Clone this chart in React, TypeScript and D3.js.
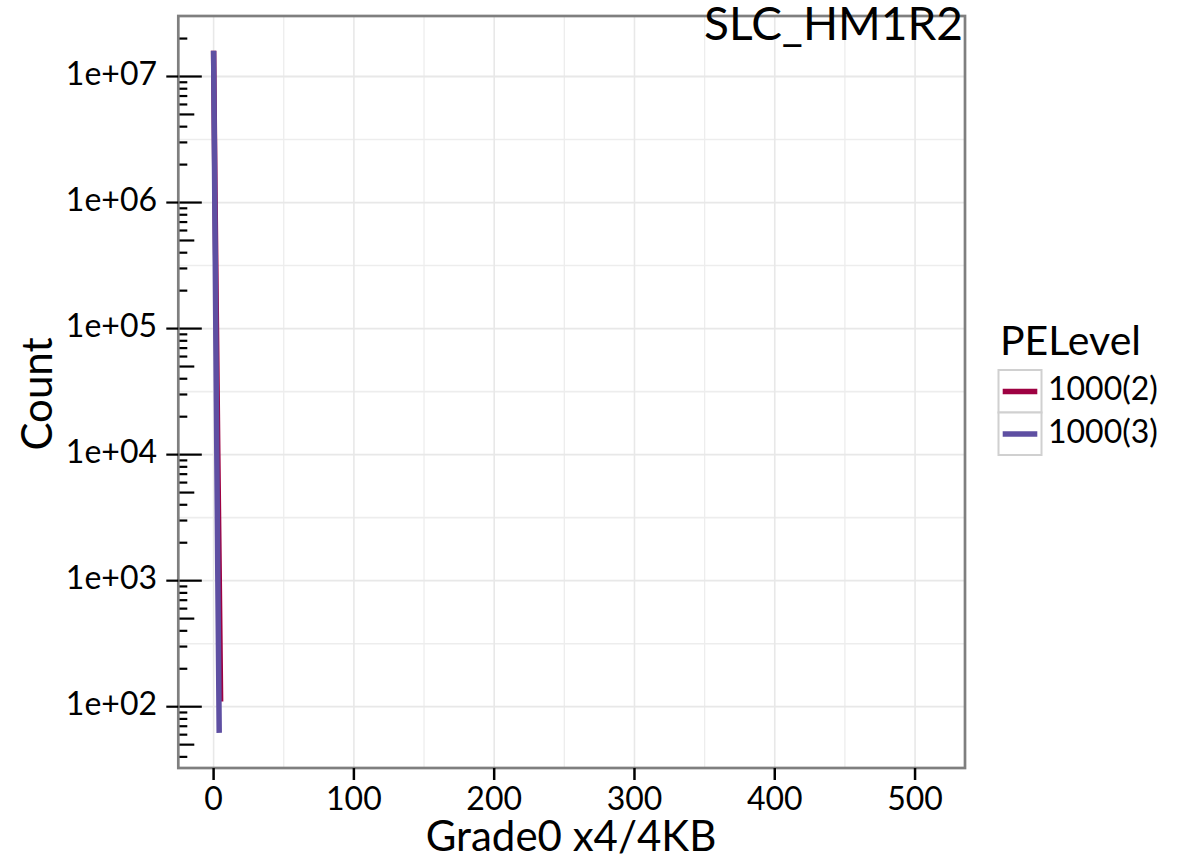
import React from "react";
import * as d3 from "d3";

const seriesNames = ["1000(2)", "1000(3)"];
const seriesColors = ["#9E0142", "#5E4FA2"];
const xRed = [0, 1, 2, 3, 4, 5];
const yRed = [1.6e7, 1.2e6, 1.1e5, 1.0e4, 1.1e3, 110];
const xPurple = [0, 1, 2, 3, 4];
const yPurple = [1.6e7, 6.5e5, 2.6e4, 1.1e3, 62];
const xTicks = [0, 100, 200, 300, 400, 500];
const xMinor = [50, 150, 250, 350, 450];
const yTicks = [1e2, 1e3, 1e4, 1e5, 1e6, 1e7];
const yTickLabels = ["1e+02", "1e+03", "1e+04", "1e+05", "1e+06", "1e+07"];
const title = "SLC_HM1R2";
const xTitle = "Grade0 x4/4KB";
const yTitle = "Count";
const legendTitle = "PELevel";

const W = 1191;
const H = 858;
const P = { left: 178.3, right: 965, top: 16, bottom: 768 };
const FONT = "Lato, 'Open Sans', sans-serif";

export default function App() {
  const x = d3.scaleLinear().domain([-25.16, 535.6]).range([P.left, P.right]);
  const y = d3.scaleLog().domain([Math.pow(10, 1.5137), Math.pow(10, 7.48)]).range([P.bottom, P.top]);

  const yMinor: number[] = [];
  for (let d = 2; d < 7; d++) yMinor.push(Math.pow(10, d + 0.5));

  const logTicks: { v: number; len: number }[] = [];
  for (let d = 1; d <= 7; d++) {
    for (let m = 1; m <= 9; m++) {
      const v = m * Math.pow(10, d);
      const py = y(v);
      if (py < P.top + 1 || py > P.bottom - 1) continue;
      logTicks.push({ v, len: m === 1 ? 23.5 : m === 5 ? 16 : 9 });
    }
  }

  const series = [
    { xs: xRed, ys: yRed },
    { xs: xPurple, ys: yPurple },
  ];
  const line = d3
    .line<[number, number]>()
    .x((d) => x(d[0]))
    .y((d) => y(d[1]));

  return (
    <svg
      width={W}
      height={H}
      style={{ position: "absolute", left: 0, top: 0, background: "#fff" }}
      fontFamily={FONT}
    >
      <rect x={0} y={0} width={W} height={H} fill="#fff" />
      {/* grid */}
      {xMinor.map((v) => (
        <line key={"xm" + v} x1={x(v)} x2={x(v)} y1={P.top} y2={P.bottom} stroke="#EDEDED" strokeWidth={1.3} />
      ))}
      {yMinor.map((v) => (
        <line key={"ym" + v} x1={P.left} x2={P.right} y1={y(v)} y2={y(v)} stroke="#EDEDED" strokeWidth={1.6} />
      ))}
      {xTicks.map((v) => (
        <line key={"xg" + v} x1={x(v)} x2={x(v)} y1={P.top} y2={P.bottom} stroke="#E8E8E8" strokeWidth={1.6} />
      ))}
      {yTicks.map((v) => (
        <line key={"yg" + v} x1={P.left} x2={P.right} y1={y(v)} y2={y(v)} stroke="#E8E8E8" strokeWidth={1.8} />
      ))}
      {/* data lines */}
      {series.map((s, i) => (
        <path
          key={"s" + i}
          d={line(s.xs.map((xv, j) => [xv, s.ys[j]] as [number, number])) || ""}
          fill="none"
          stroke={seriesColors[i]}
          strokeWidth={5.5}
          strokeLinejoin="round"
        />
      ))}
      {/* log ticks */}
      {logTicks.map((t, i) => (
        <line key={"lt" + i} x1={P.left} x2={P.left + t.len} y1={y(t.v)} y2={y(t.v)} stroke="#000" strokeWidth={2.2} />
      ))}
      {/* panel border */}
      <rect
        x={P.left}
        y={P.top}
        width={P.right - P.left}
        height={P.bottom - P.top}
        fill="none"
        stroke="#7F7F7F"
        strokeWidth={2.7}
      />
      {/* axis ticks */}
      {yTicks.map((v, i) => (
        <g key={"yt" + v}>
          <line x1={P.left - 12} x2={P.left} y1={y(v)} y2={y(v)} stroke="#000" strokeWidth={2.2} />
          <text x={157} y={y(v) + 8.5} textAnchor="end" fontSize={32} fill="#000">
            {yTickLabels[i]}
          </text>
        </g>
      ))}
      {xTicks.map((v) => (
        <g key={"xt" + v}>
          <line x1={x(v)} x2={x(v)} y1={P.bottom} y2={P.bottom + 12} stroke="#000" strokeWidth={2.5} />
          <text x={x(v)} y={810} textAnchor="middle" fontSize={32} fill="#000">
            {v}
          </text>
        </g>
      ))}
      {/* axis titles */}
      <text x={571} y={851} textAnchor="middle" fontSize={42} fill="#000">
        {xTitle}
      </text>
      <text transform="translate(52,394) rotate(-90)" textAnchor="middle" fontSize={42} fill="#000">
        {yTitle}
      </text>
      {/* title */}
      <text x={963} y={40} textAnchor="end" fontSize={46} fill="#000">
        {title}
      </text>
      {/* legend */}
      <text x={1000} y={355} fontSize={41} fill="#000">
        {legendTitle}
      </text>
      {seriesNames.map((name, i) => {
        const top = 370 + i * 42.5;
        const cy = top + 21.5;
        return (
          <g key={"lg" + i}>
            <rect x={998.5} y={top} width={43} height={42.5} fill="#fff" stroke="#D0D0D0" strokeWidth={2} />
            <line x1={1002.7} x2={1037.3} y1={cy} y2={cy} stroke={seriesColors[i]} strokeWidth={5.5} />
            <text x={1048} y={cy + 8.5} fontSize={32} fill="#000">
              {name}
            </text>
          </g>
        );
      })}
    </svg>
  );
}
